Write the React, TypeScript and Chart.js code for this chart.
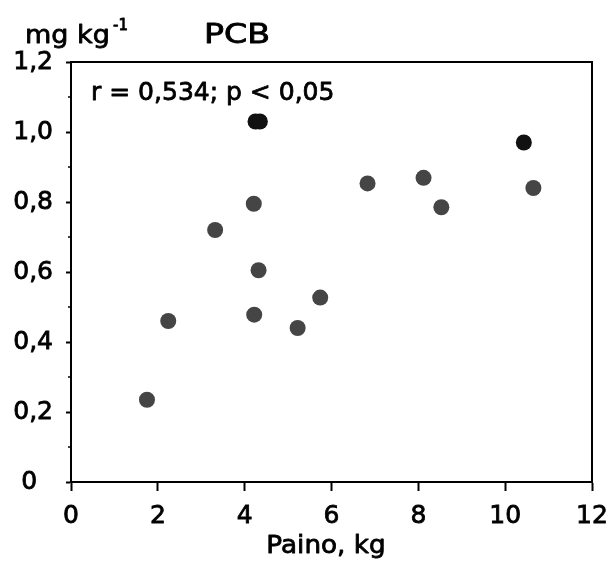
import React, { useEffect, useRef } from "react";
import { Chart, registerables } from "chart.js";

Chart.register(...registerables);

// Data (x: Paino, kg; y: PCB mg/kg)
const grayX = [1.75, 2.24, 3.32, 4.21, 4.32, 4.22, 5.22, 5.74, 6.83, 8.12, 8.53, 10.65];
const grayY = [0.235, 0.46, 0.72, 0.795, 0.605, 0.478, 0.44, 0.527, 0.853, 0.869, 0.785, 0.84];
const blackX = [4.25, 4.35, 10.43];
const blackY = [1.03, 1.03, 0.97];

const xTickLabels = ["0", "2", "4", "6", "8", "10", "12"];
const yTickLabels = ["0\u2007", "0,2", "0,4", "0,6", "0,8", "1,0", "1,2"];

const titleText = "PCB";
const yUnitText = "mg kg";
const yUnitSup = "-1";
const xTitleText = "Paino, kg";
const statText = "r = 0,534; p < 0,05";

const FONT = "'DejaVu Sans', 'Liberation Sans', Arial, sans-serif";

function heavyText(ctx: CanvasRenderingContext2D, text: string, x: number, y: number) {
  ctx.strokeText(text, x, y);
  ctx.fillText(text, x, y);
}

export default function App() {
  const ref = useRef<HTMLCanvasElement | null>(null);

  useEffect(() => {
    if (!ref.current) return;
    const overlay = {
      id: "overlay",
      afterDraw(chart: any) {
        const ctx = chart.ctx as CanvasRenderingContext2D;
        const a = chart.chartArea;
        const ys = chart.scales.y;
        ctx.save();
        // top + right frame
        ctx.strokeStyle = "#000";
        ctx.lineWidth = 2;
        ctx.beginPath();
        ctx.moveTo(a.left - 1, a.top);
        ctx.lineTo(a.right, a.top);
        ctx.lineTo(a.right, a.bottom + 1);
        ctx.stroke();
        // minor y ticks (midpoints between major ticks)
        ctx.lineWidth = 1.5;
        const t = ys.ticks;
        for (let i = 0; i < t.length - 1; i++) {
          const v = (t[i].value + t[i + 1].value) / 2;
          const py = ys.getPixelForValue(v);
          ctx.beginPath();
          ctx.moveTo(a.left - 3, py);
          ctx.lineTo(a.left, py);
          ctx.stroke();
        }
        // texts
        ctx.fillStyle = "#000";
        ctx.strokeStyle = "#000";
        ctx.lineWidth = 0.8;
        ctx.lineJoin = "round";
        ctx.textBaseline = "alphabetic";
        ctx.textAlign = "left";

        ctx.font = `25px ${FONT}`;
        ctx.save();
        ctx.translate(25, 43);
        ctx.scale(1.08, 1);
        heavyText(ctx, yUnitText, 0, 0);
        ctx.restore();
        ctx.font = `15px ${FONT}`;
        heavyText(ctx, yUnitSup, 113, 30);

        ctx.font = `26px ${FONT}`;
        ctx.save();
        ctx.translate(204, 43);
        ctx.scale(1.28, 1);
        heavyText(ctx, titleText, 0, 0);
        ctx.restore();

        ctx.font = `25px ${FONT}`;
        heavyText(ctx, statText, 91, 100);
        ctx.textAlign = "center";
        ctx.save();
        ctx.translate(326, 553);
        ctx.scale(1.05, 1);
        heavyText(ctx, xTitleText, 0, 0);
        ctx.restore();
        ctx.restore();
      },
    };

    const chart = new Chart(ref.current, {
      type: "scatter",
      data: {
        datasets: [
          {
            data: grayX.map((x, i) => ({ x, y: grayY[i] })),
            backgroundColor: "#454545",
            borderWidth: 0,
            pointRadius: 8,
          },
          {
            data: blackX.map((x, i) => ({ x, y: blackY[i] })),
            backgroundColor: "#111111",
            borderWidth: 0,
            pointRadius: 8,
          },
        ],
      },
      options: {
        responsive: false,
        animation: false,
        layout: { padding: { left: 0, top: 62, right: 20, bottom: 0 } },
        plugins: { legend: { display: false }, tooltip: { enabled: false }, title: { display: false } },
        scales: {
          x: {
            type: "linear",
            min: 0,
            max: 12,
            afterFit: (s: any) => {
              s.height = 83;
              s.paddingLeft = 0;
              s.paddingRight = 0;
            },
            border: { color: "#000", width: 2 },
            grid: { drawOnChartArea: false, tickLength: 9, tickColor: "#000", tickWidth: 2 },
            ticks: {
              stepSize: 2,
              color: "#000",
              padding: 10,
              font: { family: FONT, size: 25 },
              textStrokeColor: "#000",
              textStrokeWidth: 0.8,
              maxRotation: 0,
              callback: (_v: any, i: number) => xTickLabels[i],
            },
          },
          y: {
            type: "linear",
            min: 0,
            max: 1.2,
            afterFit: (s: any) => {
              s.width = 71;
              s.paddingTop = 0;
              s.paddingBottom = 0;
            },
            border: { color: "#000", width: 2 },
            grid: { drawOnChartArea: false, tickLength: 5, tickColor: "#000", tickWidth: 2 },
            ticks: {
              stepSize: 0.2,
              color: "#000",
              padding: 13,
              font: { family: FONT, size: 25 },
              textStrokeColor: "#000",
              textStrokeWidth: 0.8,
              callback: (_v: any, i: number) => yTickLabels[i],
            },
          },
        },
      },
      plugins: [overlay],
    } as any);
    return () => chart.destroy();
  }, []);

  return (
    <div style={{ position: "absolute", left: 0, top: 0, width: 612, height: 565, background: "#fff" }}>
      <canvas ref={ref} width={612} height={565} style={{ display: "block" }} />
    </div>
  );
}
